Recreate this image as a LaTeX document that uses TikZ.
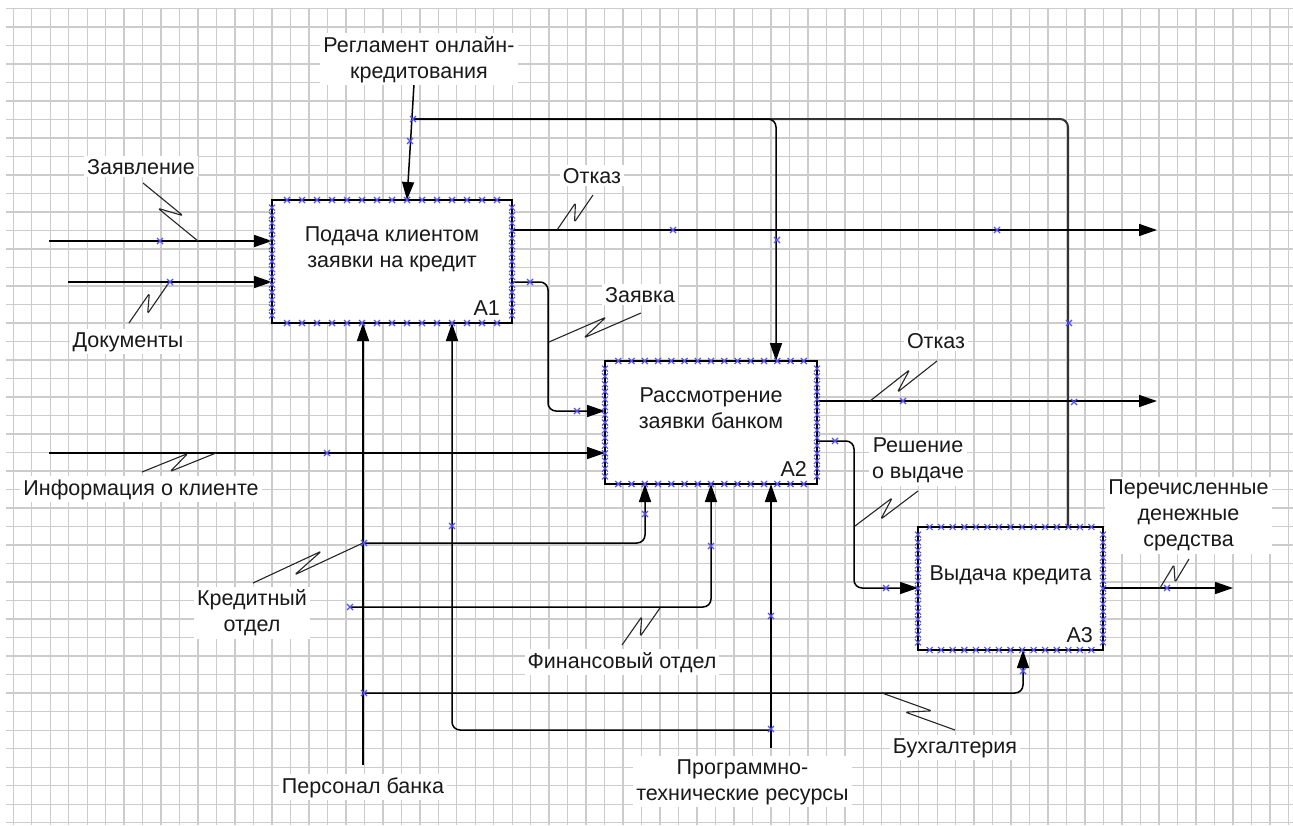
\documentclass[tikz,border=0pt]{standalone}
\usepackage{fontspec}
\setmainfont{Liberation Sans}
\usetikzlibrary{arrows.meta,calc}
\definecolor{gridc}{RGB}{204,204,204}
\definecolor{mk}{RGB}{80,80,255}
\newcommand\bmark[2]{\draw[mkst] (#1-3,#2-3) -- (#1+3,#2+3) (#1-3,#2+3) -- (#1+3,#2-3);}
\newcommand\boxmarks[4]{\foreach \k in {1,...,15}{\pgfmathsetmacro\mx{#1+(#3-#1)*\k/16}\pgfmathsetmacro\my{#2+(#4-#2)*\k/16}\bmark{\mx}{#2}\bmark{\mx}{#4}\bmark{#1}{\my}\bmark{#3}{\my}}}
\newcommand\squig[2]{\draw[sq] (#1) -- ($(#1)!0.64!(#2)!6.5pt!90:(#2)$) -- ($(#1)!0.36!(#2)!6.5pt!-90:(#2)$) -- (#2);}
\begin{document}
\begin{tikzpicture}[x=1pt,y=-1pt,
 every node/.style={font=\fontsize{21.5}{26}\selectfont, text=black!90},
 gridl/.style={draw=gridc,line width=1.4pt},
 fbox/.style={draw=black,line width=1.8pt,fill=white,inner sep=0pt,outer sep=0pt},
 ttl/.style={align=center,inner sep=0pt,anchor=base},
 lbl/.style={align=center,fill=white,inner sep=3pt,anchor=base},
 ln/.style={line width=1.5pt,rounded corners=8pt},
 arr/.style={ln,-{Triangle[length=18pt,width=12pt]}},
 sq/.style={line width=1.1pt,draw=black!85,line join=round,rounded corners=1.5pt},
 mkst/.style={draw=mk,line width=1.1pt}]
\useasboundingbox (0,0) rectangle (1293,825);
\fill[white] (0,0) rectangle (1293,825);
% grid
\foreach \i in {0,...,69} \draw[gridl] (13.3+18.478*\i,8.3) -- (13.3+18.478*\i,825);
\foreach \j in {0,...,44} \draw[gridl] (6,8.3+18.51*\j) -- (1293,8.3+18.51*\j);
% boxes
\node[fbox,minimum width=240pt,minimum height=123pt] (A1) at (392,261.5) {};
\node[fbox,minimum width=212pt,minimum height=123pt] (A2) at (711,422.5) {};
\node[fbox,minimum width=185pt,minimum height=123pt] (A3) at (1010.5,588.5) {};
\node[ttl] (A1t) at (392,267.3) {Подача клиентом\\заявки на кредит};
\node[ttl] (A2t) at (711,428) {Рассмотрение\\заявки банком};
\node[ttl] (A3t) at (1010.5,580.7) {Выдача кредита};
\node[ttl,anchor=base east] (A1n) at (500,315) {A1};
\node[ttl,anchor=base east] (A2n) at (807,476.7) {A2};
\node[ttl,anchor=base east] (A3n) at (1093,642.7) {A3};
% coordinates
\coordinate (zaS) at (49,241);
\coordinate (doS) at (68,282);
\coordinate (inS) at (49,453);
\coordinate (reS) at (414,84);
\coordinate (reE) at (407,200);
\coordinate (brT) at (412,119);
\coordinate (c2) at (776,361);
\coordinate (c3) at (1068,527);
\coordinate (o1S) at (512,230); \coordinate (o1E) at (1157,230);
\coordinate (o2S) at (512,282); \coordinate (o2M) at (548,411); \coordinate (o2E) at (605,411);
\coordinate (o3S) at (817,401); \coordinate (o3E) at (1157,401);
\coordinate (o4S) at (817,441); \coordinate (o4M) at (854,588); \coordinate (o4E) at (918,588);
\coordinate (o5S) at (1103,588); \coordinate (o5E) at (1233,588);
\coordinate (peS) at (363,765); \coordinate (peE) at (363,323);
\coordinate (kdS) at (363,543); \coordinate (kdE) at (645,484);
\coordinate (fiS) at (350,607); \coordinate (fiE) at (711,484);
\coordinate (buS) at (363,693); \coordinate (buE) at (1023,650);
\coordinate (prS) at (771,748); \coordinate (prE) at (771,484);
\coordinate (pbS) at (771,730); \coordinate (pbE) at (452,323);
% connectors
\draw[arr] (zaS) -- (zaS -| A1.west);
\draw[arr] (doS) -- (doS -| A1.west);
\draw[arr] (inS) -- (inS -| A2.west);
\draw[arr] (reS) -- (reE);
\draw[ln,line width=2pt,draw=black!80] (brT) -| (c3);
\draw[arr] (brT) -| (c2);
\draw[arr] (o1S) -- (o1E);
\draw[arr] (o2S) -| (o2M) -- (o2E);
\draw[arr] (o3S) -- (o3E);
\draw[arr] (o4S) -| (o4M) -- (o4E);
\draw[arr] (o5S) -- (o5E);
\draw[arr] (peS) -- (peE);
\draw[arr] (kdS) -| (kdE);
\draw[arr] (fiS) -| (fiE);
\draw[arr] (buS) -| (buE);
\draw[arr] (prS) -- (prE);
\draw[arr] (pbS) -| (pbE);
% labels (base = baseline of last line)
\node[lbl] (lZa) at (141,174) {Заявление};
\node[lbl] (lDo) at (128,347) {Документы};
\node[lbl] (lRe) at (419,78) {Регламент онлайн-\\кредитования};
\node[lbl] (lO1) at (592,183) {Отказ};
\node[lbl] (lZk) at (640,302) {Заявка};
\node[lbl] (lIn) at (141,495) {Информация о клиенте};
\node[lbl] (lO2) at (936,348) {Отказ};
\node[lbl] (lRs) at (918,478.3) {Решение\\о выдаче};
\node[lbl] (lPe) at (1188.5,546.7) {Перечисленные\\денежные\\средства};
\node[lbl] (lKr) at (252,631.7) {Кредитный\\отдел};
\node[lbl] (lFi) at (622,668) {Финансовый отдел};
\node[lbl] (lBu) at (955,753) {Бухгалтерия};
\node[lbl] (lPb) at (363,793) {Персонал банка};
\node[lbl] (lPr) at (742.5,800) {Программно-\\технические ресурсы};
% squiggles
\coordinate (s1a) at (143,183); \coordinate (s1b) at (198,241);
\coordinate (s2a) at (129,323); \coordinate (s2b) at (168,284);
\coordinate (s3a) at (593,195); \coordinate (s3b) at (557,230);
\coordinate (s4a) at (641,313); \coordinate (s4b) at (549,342);
\coordinate (s5a) at (142,472); \coordinate (s5b) at (216,453);
\coordinate (s6a) at (253,583); \coordinate (s6b) at (363,543);
\coordinate (s7a) at (622,645); \coordinate (s7b) at (660,608);
\coordinate (s8a) at (955,730); \coordinate (s8b) at (882,693);
\coordinate (s9a) at (937,361); \coordinate (s9b) at (870,401);
\coordinate (s10a) at (918,491); \coordinate (s10b) at (855,526);
\coordinate (s11a) at (1189,559); \coordinate (s11b) at (1160,588);
\squig{s1a}{s1b}\squig{s2a}{s2b}\squig{s3a}{s3b}\squig{s4a}{s4b}
\squig{s5a}{s5b}\squig{s6a}{s6b}\squig{s7a}{s7b}\squig{s8a}{s8b}
\squig{s9a}{s9b}\squig{s10a}{s10b}\squig{s11a}{s11b}
% markers
\boxmarks{272}{200}{512}{323}
\boxmarks{605}{361}{817}{484}
\boxmarks{918}{527}{1103}{650}
\foreach \p/\q in {160/241,170/282,413/119,410/141,673/230,997/230,777/240,1069/323,530/282,577/411,327/453,364/543,645/514,350/607,711/546,364/693,1023/671,452/526,771/616,771/729,903/401,1074/402,835/441,886/588,1167/588} {\bmark{\p}{\q}}
\end{tikzpicture}
\end{document}
